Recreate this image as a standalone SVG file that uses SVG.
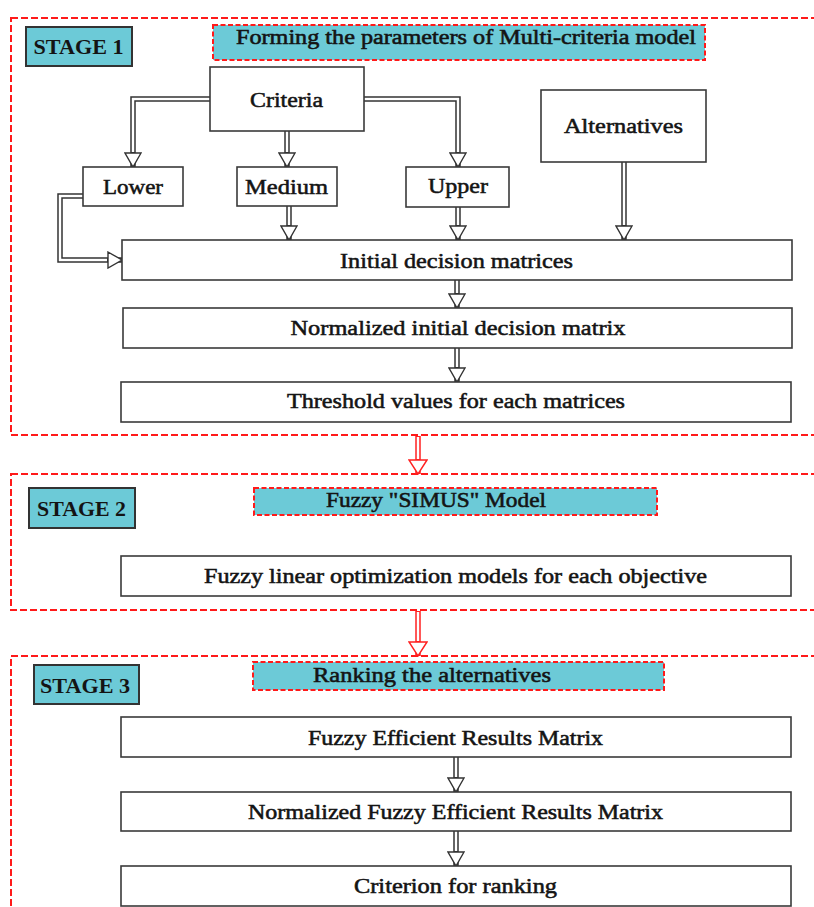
<svg xmlns="http://www.w3.org/2000/svg" width="814" height="907" viewBox="0 0 814 907">
<style>
.stage{fill:none;stroke:#ff1a1a;stroke-width:2;stroke-dasharray:7 3}
.title{fill:#6ccad7;stroke:#ff1a1a;stroke-width:2;stroke-dasharray:5 2.5}
.lab{fill:#6ccad7;stroke:#333;stroke-width:2}
.box{fill:#fff;stroke:#3a3a3a;stroke-width:1.6}
.t{font-family:"Liberation Serif","Times New Roman",serif;font-weight:normal;fill:#141414;stroke:#141414;stroke-width:0.55;text-anchor:middle}
.b{font-weight:bold;stroke-width:0}
.s22{font-size:22px}
.s21{font-size:21px}
.s20{font-size:20px}
.o{fill:none;stroke:#333;stroke-width:5.5;stroke-linejoin:miter}
.i{fill:none;stroke:#fff;stroke-width:2.5;stroke-linejoin:miter}
.ro{fill:none;stroke:#ff2020;stroke-width:5.5}
</style>
<defs>
<marker id="ah" viewBox="0 0 16 18" refX="15" refY="9" markerWidth="16" markerHeight="18" markerUnits="userSpaceOnUse" orient="auto"><path d="M1,1 L15,9 L1,17 Z" fill="#fff" stroke="#333" stroke-width="1.4"/></marker>
<marker id="rah" viewBox="0 0 16 20" refX="15" refY="10" markerWidth="16" markerHeight="20" markerUnits="userSpaceOnUse" orient="auto"><path d="M1,1 L15,10 L1,19 Z" fill="#fff" stroke="#ff2020" stroke-width="1.4"/></marker>
</defs>
<rect width="814" height="907" fill="#fff"/>

<g id="stage1-frame"><rect class="stage" x="11" y="18" width="830" height="417"/></g>
<g id="stage2-frame"><rect class="stage" x="11" y="474" width="830" height="136"/></g>
<g id="stage3-frame"><rect class="stage" x="11" y="656" width="830" height="300"/></g>

<g id="connectors">
<path class="o" d="M210,99 H133 V167" marker-end="url(#ah)"/><path class="i" d="M210,99 H133 V152"/>
<path class="o" d="M287,131 V167" marker-end="url(#ah)"/><path class="i" d="M287,131 V152"/>
<path class="o" d="M364,99 H458 V167" marker-end="url(#ah)"/><path class="i" d="M364,99 H458 V152"/>
<path class="o" d="M83,196 H60 V260 H122" marker-end="url(#ah)"/><path class="i" d="M83,196 H60 V260 H107"/>
<path class="o" d="M289,206 V240" marker-end="url(#ah)"/><path class="i" d="M289,206 V225"/>
<path class="o" d="M458,207 V240" marker-end="url(#ah)"/><path class="i" d="M458,207 V225"/>
<path class="o" d="M624,162 V240" marker-end="url(#ah)"/><path class="i" d="M624,162 V225"/>
<path class="o" d="M457,280 V308" marker-end="url(#ah)"/><path class="i" d="M457,280 V293"/>
<path class="o" d="M457,348 V382" marker-end="url(#ah)"/><path class="i" d="M457,348 V367"/>
<path class="ro" d="M418,436 V474" marker-end="url(#rah)"/><path class="i" d="M418,437 V459"/>
<path class="ro" d="M418,611 V656" marker-end="url(#rah)"/><path class="i" d="M418,612 V641"/>
<path class="o" d="M456,757 V792" marker-end="url(#ah)"/><path class="i" d="M456,757 V777"/>
<path class="o" d="M456,831 V866" marker-end="url(#ah)"/><path class="i" d="M456,831 V851"/>
</g>

<g id="stage1-label"><rect class="lab" x="26" y="27" width="106" height="39"/><text class="t b s21" x="78.5" y="54" textLength="90" lengthAdjust="spacingAndGlyphs">STAGE 1</text></g>
<g id="stage1-title"><rect class="title" x="213" y="25" width="492" height="35"/><text class="t s20" x="466" y="44" textLength="460" lengthAdjust="spacingAndGlyphs">Forming the parameters of Multi-criteria model</text></g>
<g id="criteria"><rect class="box" x="210" y="67" width="154" height="64"/><text class="t s22" x="286.5" y="106.5" textLength="73" lengthAdjust="spacingAndGlyphs">Criteria</text></g>
<g id="lower"><rect class="box" x="83" y="167" width="100" height="39"/><text class="t s22" x="133" y="194" textLength="60" lengthAdjust="spacingAndGlyphs">Lower</text></g>
<g id="medium"><rect class="box" x="237" y="167" width="100" height="39"/><text class="t s22" x="286.5" y="194" textLength="83" lengthAdjust="spacingAndGlyphs">Medium</text></g>
<g id="upper"><rect class="box" x="406" y="167" width="103" height="40"/><text class="t s22" x="458" y="193" textLength="60" lengthAdjust="spacingAndGlyphs">Upper</text></g>
<g id="alternatives"><rect class="box" x="541" y="90" width="165" height="72"/><text class="t s22" x="623.5" y="133" textLength="119" lengthAdjust="spacingAndGlyphs">Alternatives</text></g>
<g id="initial"><rect class="box" x="122" y="240" width="670" height="40"/><text class="t s22" x="456.5" y="268" textLength="233" lengthAdjust="spacingAndGlyphs">Initial decision matrices</text></g>
<g id="normalized"><rect class="box" x="123" y="308" width="669" height="40"/><text class="t s22" x="458" y="335" textLength="335" lengthAdjust="spacingAndGlyphs">Normalized initial decision matrix</text></g>
<g id="threshold"><rect class="box" x="121" y="382" width="670" height="40"/><text class="t s22" x="456" y="408" textLength="338" lengthAdjust="spacingAndGlyphs">Threshold values for each matrices</text></g>

<g id="stage2-label"><rect class="lab" x="29" y="488" width="106" height="40"/><text class="t b s21" x="81.5" y="516" textLength="89" lengthAdjust="spacingAndGlyphs">STAGE 2</text></g>
<g id="stage2-title"><rect class="title" x="254" y="488" width="403" height="27"/><text class="t s21" x="436" y="507" textLength="220" lengthAdjust="spacingAndGlyphs">Fuzzy "SIMUS" Model</text></g>
<g id="fuzzy-linear"><rect class="box" x="121" y="556" width="670" height="40"/><text class="t s21" x="455.5" y="582.5" textLength="503" lengthAdjust="spacingAndGlyphs">Fuzzy linear optimization models for each objective</text></g>

<g id="stage3-label"><rect class="lab" x="34" y="665" width="105" height="39"/><text class="t b s21" x="85" y="693" textLength="90" lengthAdjust="spacingAndGlyphs">STAGE 3</text></g>
<g id="stage3-title"><rect class="title" x="253" y="662" width="411" height="28"/><text class="t s21" x="432" y="681.5" textLength="238" lengthAdjust="spacingAndGlyphs">Ranking the alternatives</text></g>
<g id="fuzzy-efficient"><rect class="box" x="121" y="717" width="670" height="40"/><text class="t s21" x="455.5" y="745" textLength="295" lengthAdjust="spacingAndGlyphs">Fuzzy Efficient Results Matrix</text></g>
<g id="normalized-fuzzy"><rect class="box" x="121" y="792" width="670" height="39"/><text class="t s21" x="455.5" y="819" textLength="415" lengthAdjust="spacingAndGlyphs">Normalized Fuzzy Efficient Results Matrix</text></g>
<g id="criterion"><rect class="box" x="121" y="866" width="670" height="40"/><text class="t s21" x="455.5" y="893" textLength="203" lengthAdjust="spacingAndGlyphs">Criterion for ranking</text></g>
</svg>
